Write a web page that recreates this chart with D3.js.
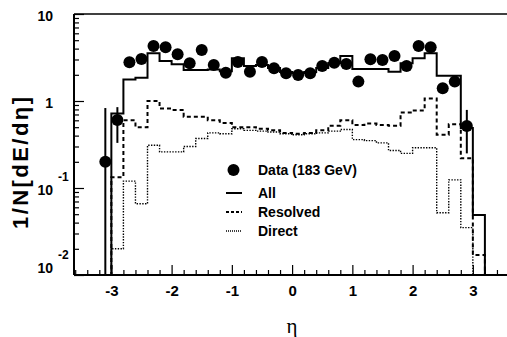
<!DOCTYPE html>
<html>
<head>
<meta charset="utf-8">
<script src="https://cdn.jsdelivr.net/npm/d3@7"></script>
<style>
  html, body { margin: 0; padding: 0; background: #fff; }
  svg { display: block; }
</style>
</head>
<body>
<svg id="chart" width="507" height="337"></svg>
<script>
// Bin edges of the histograms (eta), 0.2 wide
const binEdges = [-3.2, -3.0, -2.8, -2.6, -2.4, -2.2, -2.0, -1.8, -1.6, -1.4, -1.2, -1.0,
  -0.8, -0.6, -0.4, -0.2, 0.0, 0.2, 0.4, 0.6, 0.8, 1.0, 1.2, 1.4, 1.6, 1.8, 2.0, 2.2,
  2.4, 2.6, 2.8, 3.0, 3.2];

// Monte Carlo: all events
const allValues = [0.005, 0.72, 1.77, 1.85, 3.53, 2.88, 2.64, 2.27, 2.27, 2.3, 2.2, 3.1,
  2.52, 2.6, 2.39, 2.15, 2.1, 2.15, 2.4, 2.73, 3.3, 2.33, 2.33, 2.33, 2.17, 2.71, 3.09,
  3.53, 1.95, 1.95, 0.49, 0.049];

// Monte Carlo: resolved component
const resolvedValues = [0.005, 0.133, 0.6, 0.5, 1.0, 0.82, 0.79, 0.66, 0.66, 0.6, 0.56, 0.5,
  0.5, 0.48, 0.46, 0.43, 0.42, 0.43, 0.46, 0.52, 0.6, 0.53, 0.55, 0.53, 0.52, 0.74, 0.78,
  1.07, 0.41, 0.54, 0.22, 0.017];

// Monte Carlo: direct component
const directValues = [0.005, 0.020, 0.12, 0.066, 0.31, 0.26, 0.26, 0.30, 0.37, 0.43, 0.42, 0.48,
  0.46, 0.45, 0.44, 0.42, 0.41, 0.42, 0.43, 0.45, 0.47, 0.36, 0.35, 0.33, 0.27, 0.25, 0.29,
  0.29, 0.052, 0.124, 0.035, 0.008];

// Data at 183 GeV
const dataEta = [-3.1, -2.9, -2.7, -2.5, -2.3, -2.1, -1.9, -1.7, -1.5, -1.3, -1.1, -0.9,
  -0.7, -0.5, -0.3, -0.1, 0.1, 0.3, 0.5, 0.7, 0.9, 1.1, 1.3, 1.5, 1.7, 1.9, 2.1, 2.3,
  2.5, 2.7, 2.9];
const dataValues = [0.20, 0.605, 2.79, 3.04, 4.28, 4.14, 3.44, 2.71, 3.85, 2.59, 2.11, 2.8,
  2.17, 2.8, 2.38, 2.08, 1.99, 2.08, 2.52, 2.76, 2.66, 1.67, 3.01, 2.96, 3.29, 2.52, 4.28,
  4.14, 1.40, 1.67, 0.516];
const dataErrLow = [0.199, 0.275, 0.1, 0.1, 0.12, 0.12, 0.1, 0.1, 0.12, 0.1, 0.08, 0.1,
  0.08, 0.1, 0.08, 0.08, 0.08, 0.08, 0.08, 0.1, 0.1, 0.08, 0.1, 0.1, 0.1, 0.1, 0.12,
  0.12, 0.08, 0.1, 0.266];
const dataErrHigh = [0.63, 0.245, 0.1, 0.1, 0.12, 0.12, 0.1, 0.1, 0.12, 0.1, 0.08, 0.1,
  0.08, 0.1, 0.08, 0.08, 0.08, 0.08, 0.08, 0.1, 0.1, 0.08, 0.1, 0.1, 0.1, 0.1, 0.12,
  0.12, 0.08, 0.1, 0.274];

// Axis ticks
const xMajorTicks = [-3, -2, -1, 0, 1, 2, 3];
const xMinorTicks = [-3.6, -3.4, -3.2, -2.8, -2.6, -2.4, -2.2, -1.8, -1.6, -1.4, -1.2,
  -0.8, -0.6, -0.4, -0.2, 0.2, 0.4, 0.6, 0.8, 1.2, 1.4, 1.6, 1.8, 2.2, 2.4, 2.6, 2.8,
  3.2, 3.4];
const yMajorTicks = [0.01, 0.1, 1, 10];
const yTickExponents = ["-2", "-1", "", ""];
const yTickBases = ["10", "10", "1", "10"];

const legendLabels = ["Data (183 GeV)", "All", "Resolved", "Direct"];

const svg = d3.select("#chart");
const plotLeft = 74, plotRight = 509, plotTop = 14, plotBottom = 275;

const x = d3.scaleLinear().domain([-3.62, 3.6]).range([plotLeft, plotRight]);
const y = d3.scaleLog().domain([0.01, 10]).range([plotBottom, plotTop]);

// minor log ticks 2..9 per decade
const yMinorTicks = [];
[0.01, 0.1, 1].forEach(d => { for (let k = 2; k <= 9; k++) yMinorTicks.push(d * k); });

svg.append("defs").append("clipPath").attr("id", "plotclip")
  .append("rect").attr("x", plotLeft).attr("y", plotTop)
  .attr("width", plotRight - plotLeft).attr("height", plotBottom - plotTop);

const plot = svg.append("g").attr("clip-path", "url(#plotclip)");

function stepPath(values) {
  const pts = [];
  const floor = 0.001;
  pts.push([x(binEdges[0]), y(floor)]);
  values.forEach((v, i) => {
    const vv = Math.max(v, floor);
    pts.push([x(binEdges[i]), y(vv)]);
    pts.push([x(binEdges[i + 1]), y(vv)]);
  });
  pts.push([x(binEdges[binEdges.length - 1]), y(floor)]);
  return d3.line()(pts);
}

plot.append("path").attr("d", stepPath(directValues))
  .attr("fill", "none").attr("stroke", "#000").attr("stroke-width", 1.4)
  .attr("stroke-dasharray", "1.4,1.4");
plot.append("path").attr("d", stepPath(resolvedValues))
  .attr("fill", "none").attr("stroke", "#000").attr("stroke-width", 2)
  .attr("stroke-dasharray", "4,3");
plot.append("path").attr("d", stepPath(allValues))
  .attr("fill", "none").attr("stroke", "#000").attr("stroke-width", 2);

// data points with error bars
const pts = plot.append("g");
dataEta.forEach((e, i) => {
  const lo = Math.max(dataValues[i] - dataErrLow[i], 0.0005);
  const hi = dataValues[i] + dataErrHigh[i];
  pts.append("line")
    .attr("x1", x(e)).attr("x2", x(e))
    .attr("y1", y(lo)).attr("y2", y(hi))
    .attr("stroke", "#000").attr("stroke-width", 2);
  pts.append("circle")
    .attr("cx", x(e)).attr("cy", y(dataValues[i])).attr("r", 6).attr("fill", "#000");
});

// frame
svg.append("line").attr("x1", plotLeft).attr("x2", plotRight)
  .attr("y1", plotTop).attr("y2", plotTop)
  .attr("stroke", "#000").attr("stroke-width", 1.5);

// x axis
const xAxisMajor = svg.append("g").attr("transform", `translate(0,${plotBottom})`)
  .call(d3.axisBottom(x).tickValues(xMajorTicks).tickSize(-10).tickFormat(d3.format("d")));
const xAxisMinor = svg.append("g").attr("transform", `translate(0,${plotBottom})`)
  .call(d3.axisBottom(x).tickValues(xMinorTicks).tickSize(-5).tickFormat(""));
[xAxisMajor, xAxisMinor].forEach(g => {
  g.select(".domain").attr("stroke-width", 2).attr("d", `M${plotLeft},0H${plotRight}`);
  g.selectAll(".tick line").attr("stroke-width", 1.2);
});
xAxisMajor.selectAll(".tick text")
  .attr("y", 10).attr("dy", "0.71em")
  .attr("font-family", "Liberation Sans, Arial, sans-serif")
  .attr("font-weight", "bold").attr("font-size", 15).attr("fill", "#000")
  .text(d => d < 0 ? "-" + Math.abs(d) : String(d));

// y axis
const yAxisMajor = svg.append("g").attr("transform", `translate(${plotLeft},0)`)
  .call(d3.axisLeft(y).tickValues(yMajorTicks).tickSize(-10).tickFormat(""));
const yAxisMinor = svg.append("g").attr("transform", `translate(${plotLeft},0)`)
  .call(d3.axisLeft(y).tickValues(yMinorTicks).tickSize(-5).tickFormat(""));
[yAxisMajor, yAxisMinor].forEach(g => {
  g.select(".domain").attr("stroke-width", 2).attr("d", `M0,${plotTop}V${plotBottom}`);
  g.selectAll(".tick line").attr("stroke-width", 1.2);
});

// y tick labels: 10 with superscript exponent
const yLab = svg.append("g")
  .attr("font-family", "Liberation Sans, Arial, sans-serif")
  .attr("font-weight", "bold").attr("fill", "#000");
yMajorTicks.forEach((v, i) => {
  const shift = (v === 0.01) ? -7 : 2;
  const cy = y(v) + shift;
  yLab.append("text")
    .attr("x", 53).attr("y", cy).attr("dy", "0.36em")
    .attr("text-anchor", "end").attr("font-size", 14)
    .text(yTickBases[i]);
  if (yTickExponents[i]) {
    yLab.append("text")
      .attr("x", 58).attr("y", cy - 13).attr("dy", "0.36em")
      .attr("text-anchor", "start").attr("font-size", 12)
      .text(yTickExponents[i]);
  }
});

// axis titles
svg.append("text")
  .attr("transform", "translate(28,163) rotate(-90)")
  .attr("text-anchor", "middle")
  .attr("font-family", "Liberation Sans, Arial, sans-serif")
  .attr("font-weight", "bold").attr("font-size", 22).attr("fill", "#000")
  .attr("textLength", 132).attr("lengthAdjust", "spacing")
  .text("1/N[dE/dη]");

svg.append("text")
  .attr("x", x(0)).attr("y", 333)
  .attr("text-anchor", "middle")
  .attr("font-family", "Liberation Serif, serif")
  .attr("font-size", 21).attr("fill", "#000")
  .text("η");

// legend
const lg = svg.append("g")
  .attr("font-family", "Liberation Sans, Arial, sans-serif")
  .attr("font-weight", "bold").attr("font-size", 14).attr("fill", "#000");
const lgY = [170, 193, 212, 231];
lg.append("circle").attr("cx", 233.5).attr("cy", lgY[0]).attr("r", 6).attr("fill", "#000");
lg.append("line").attr("x1", 226).attr("x2", 242).attr("y1", lgY[1]).attr("y2", lgY[1])
  .attr("stroke", "#000").attr("stroke-width", 2);
lg.append("line").attr("x1", 226).attr("x2", 242).attr("y1", lgY[2]).attr("y2", lgY[2])
  .attr("stroke", "#000").attr("stroke-width", 2).attr("stroke-dasharray", "3,2");
lg.append("line").attr("x1", 226).attr("x2", 242).attr("y1", lgY[3]).attr("y2", lgY[3])
  .attr("stroke", "#000").attr("stroke-width", 1.4).attr("stroke-dasharray", "1,1");
legendLabels.forEach((t, i) => {
  lg.append("text").attr("x", 258).attr("y", lgY[i]).attr("dy", "0.36em").text(t);
});
</script>
</body>
</html>
